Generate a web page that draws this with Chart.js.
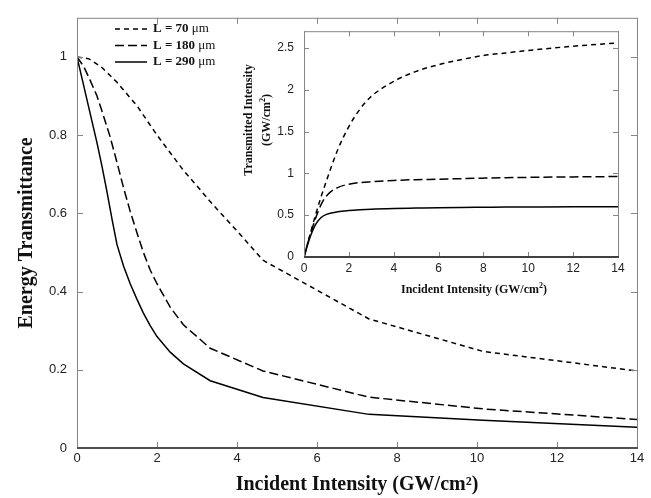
<!DOCTYPE html>
<html>
<head>
<meta charset="utf-8">
<script src="https://cdn.jsdelivr.net/npm/chart.js@4.4.0/dist/chart.umd.min.js"></script>
<style>
  body { margin: 0; background: #fff; }
  #wrap { position: relative; width: 651px; height: 498px; overflow: hidden; }
  #mainChart { position: absolute; left: 0; top: 0; }
  #insetChart { position: absolute; left: 230px; top: 14px; }
  .inset-title {
    position: absolute;
    font: bold 12px 'Liberation Serif', 'Times New Roman', serif;
    color: #111;
    white-space: nowrap;
    text-align: center;
    line-height: 18px;
  }
  .inset-title sup { font-size: 8px; line-height: 0; }
  #insetY { left: 187px; top: 102px; width: 140px; height: 36px; transform: rotate(-90deg); }
  #insetX { left: 374px; top: 280px; width: 200px; height: 18px; }
</style>
</head>
<body>
<div id="wrap">
  <canvas id="mainChart" width="651" height="498"></canvas>
  <canvas id="insetChart" width="400" height="290"></canvas>
  <div class="inset-title" id="insetY">Transmitted Intensity<br>(GW/cm<sup>2</sup>)</div>
  <div class="inset-title" id="insetX">Incident Intensity (GW/cm<sup>2</sup>)</div>
</div>
<script>
// sample thicknesses
const lengths = [70, 180, 290];

// main plot: energy transmittance vs incident intensity (GW/cm2)
const mainX70 = [0, 0.3, 0.6, 1.0, 1.5, 2.0, 2.33, 2.66, 3.0, 3.33, 4.0, 4.65, 7.3, 10.15, 14];
const mainT70 = [1, 0.995, 0.975, 0.935, 0.875, 0.80, 0.755, 0.71, 0.67, 0.63, 0.555, 0.48, 0.33, 0.247, 0.197];

const mainX180 = [0, 0.17, 0.33, 0.5, 0.66, 0.83, 1.0, 1.165, 1.33, 1.5, 1.66, 1.83, 2.0, 2.33, 2.66, 3.33, 4.65, 7.3, 10.15, 14];
const mainT180 = [1, 0.975, 0.94, 0.9, 0.85, 0.795, 0.73, 0.665, 0.605, 0.55, 0.50, 0.455, 0.42, 0.36, 0.315, 0.255, 0.197, 0.13, 0.10, 0.073];

const mainX290 = [0, 0.125, 0.25, 0.375, 0.5, 0.625, 0.75, 0.875, 1.0, 1.165, 1.33, 1.5, 1.66, 1.83, 2.0, 2.33, 2.66, 3.33, 4.65, 7.3, 10.15, 14];
const mainT290 = [1, 0.945, 0.89, 0.835, 0.78, 0.72, 0.655, 0.585, 0.52, 0.465, 0.42, 0.38, 0.345, 0.313, 0.285, 0.245, 0.215, 0.172, 0.129, 0.086, 0.071, 0.053];

// inset: transmitted intensity vs incident intensity
const insetX = [0, 0.25, 0.5, 0.75, 1, 1.5, 2, 2.5, 3, 4, 5, 6, 7, 8, 9, 10, 12, 14];
const inset70 = [0, 0.25, 0.49, 0.71, 0.91, 1.28, 1.56, 1.77, 1.92, 2.1, 2.22, 2.3, 2.36, 2.41, 2.44, 2.47, 2.52, 2.56];
const inset180 = [0, 0.24, 0.45, 0.62, 0.73, 0.83, 0.87, 0.89, 0.9, 0.915, 0.925, 0.93, 0.937, 0.943, 0.948, 0.952, 0.958, 0.962];
const inset290 = [0, 0.22, 0.38, 0.47, 0.51, 0.54, 0.555, 0.565, 0.572, 0.58, 0.585, 0.59, 0.593, 0.595, 0.597, 0.598, 0.6, 0.6];

const dashes = [[5, 4], [9, 4], []];

function pts(xs, ys) {
    return xs.map((x, i) => ({ x: x, y: ys[i] }));
}

// "1" not "1.0", "2" not "2.0"
const plainNum = (v) => String(Math.round(v * 100) / 100);

// box round the plot, with ticks pointing inwards on all four sides
const frameTicks = {
    id: 'frameTicks',
    afterDraw(chart, args, opts) {
        const { ctx, chartArea: a, scales: { x, y } } = chart;
        ctx.save();
        ctx.lineWidth = 1;
        ctx.strokeStyle = opts.color;
        ctx.beginPath();
        x.ticks.forEach((t, i) => {
            const px = Math.round(x.getPixelForTick(i)) + 0.5;
            ctx.moveTo(px, a.bottom); ctx.lineTo(px, a.bottom - opts.len);
            ctx.moveTo(px, a.top); ctx.lineTo(px, a.top + opts.len);
        });
        y.ticks.forEach((t, i) => {
            const py = Math.round(y.getPixelForTick(i)) + 0.5;
            ctx.moveTo(a.left, py); ctx.lineTo(a.left + opts.len, py);
            ctx.moveTo(a.right, py); ctx.lineTo(a.right - opts.len, py);
        });
        ctx.stroke();
        ctx.strokeRect(a.left + 0.5, a.top + 0.5, a.right - a.left, a.bottom - a.top);
        ctx.strokeStyle = opts.baseColor;
        ctx.lineWidth = 2;
        ctx.beginPath();
        ctx.moveTo(a.left, a.bottom);
        ctx.lineTo(a.right + 1, a.bottom);
        ctx.stroke();
        ctx.restore();
    }
};

// legend in the upper left corner, "L = .." bold and the unit plain
const lineKey = {
    id: 'lineKey',
    afterDraw(chart, args, opts) {
        const ctx = chart.ctx;
        chart.data.datasets.forEach((ds, i) => {
            const y = opts.top + i * opts.gap;
            ctx.save();
            ctx.strokeStyle = ds.borderColor;
            ctx.lineWidth = ds.borderWidth;
            ctx.setLineDash(ds.borderDash);
            ctx.beginPath();
            ctx.moveTo(opts.x, y);
            ctx.lineTo(opts.x + opts.width, y);
            ctx.stroke();
            ctx.setLineDash([]);
            ctx.fillStyle = '#111';
            ctx.textBaseline = 'middle';
            const cut = ds.label.lastIndexOf(' ');
            const head = ds.label.slice(0, cut + 1);
            const unit = ds.label.slice(cut + 1);
            let tx = opts.x + opts.width + 6;
            ctx.font = "bold 13px 'Liberation Serif'";
            ctx.fillText(head, tx, y);
            tx += ctx.measureText(head).width;
            ctx.font = "13px 'Liberation Serif'";
            ctx.fillText(unit, tx, y);
            ctx.restore();
        });
    }
};

function makeSets(series) {
    return series.map((s, i) => ({
        label: 'L = ' + lengths[i] + ' μm',
        data: s,
        borderColor: '#000',
        borderWidth: 1.5,
        borderDash: dashes[i],
        pointRadius: 0,
        fill: false
    }));
}

const tickFont = { family: "'Liberation Sans', Arial, sans-serif", size: 13 };
const titleFont = { family: "'Liberation Serif', 'Times New Roman', serif", size: 20, weight: 'bold' };

// Main chart
const mainCtx = document.getElementById('mainChart').getContext('2d');
new Chart(mainCtx, {
    type: 'line',
    data: {
        datasets: makeSets([pts(mainX70, mainT70), pts(mainX180, mainT180), pts(mainX290, mainT290)])
    },
    options: {
        responsive: false,
        animation: false,
        devicePixelRatio: 1,
        layout: { padding: { left: 0, top: 12, right: 14, bottom: 0 } },
        elements: { line: { tension: 0 } },
        plugins: {
            legend: { display: false },
            tooltip: { enabled: false },
            frameTicks: { len: 6, color: '#858585', baseColor: '#505050' },
            lineKey: { x: 115, top: 29, gap: 16.5, width: 32 }
        },
        scales: {
            x: {
                type: 'linear',
                min: 0,
                max: 14,
                grid: { display: false, drawTicks: false, tickLength: 0 },
                border: { display: false },
                ticks: { stepSize: 2, padding: 3, color: '#222', font: tickFont, maxRotation: 0, callback: plainNum },
                title: { display: true, text: 'Incident Intensity (GW/cm²)', color: '#111', font: titleFont, padding: { top: 0, bottom: 1 } },
                afterFit: (s) => { s.height = 50; }
            },
            y: {
                min: 0,
                max: 1.1,
                grid: { display: false, drawTicks: false, tickLength: 0 },
                border: { display: false },
                ticks: { stepSize: 0.2, includeBounds: false, padding: 10, color: '#222', font: tickFont, callback: plainNum },
                title: { display: true, text: 'Energy Transmittance', color: '#111', font: titleFont, padding: { top: 15, bottom: 0 } },
                afterFit: (s) => { s.width = 77; }
            }
        }
    },
    plugins: [frameTicks, lineKey]
});

// Inset chart
const insetCtx = document.getElementById('insetChart').getContext('2d');
new Chart(insetCtx, {
    type: 'line',
    data: {
        datasets: makeSets([pts(insetX, inset70), pts(insetX, inset180), pts(insetX, inset290)])
    },
    options: {
        responsive: false,
        animation: false,
        devicePixelRatio: 1,
        layout: { padding: { left: 0, top: 10, right: 12, bottom: 0 } },
        elements: { line: { cubicInterpolationMode: 'monotone' } },
        plugins: {
            legend: { display: false },
            tooltip: { enabled: false },
            frameTicks: { len: 5, color: '#858585', baseColor: '#404040' }
        },
        scales: {
            x: {
                type: 'linear',
                min: 0,
                max: 14,
                grid: { display: false, drawTicks: false, tickLength: 0 },
                border: { display: false },
                ticks: { stepSize: 2, padding: 4, color: '#222', font: { family: tickFont.family, size: 12 }, maxRotation: 0, callback: plainNum },
                afterFit: (s) => { s.height = 47; }
            },
            y: {
                min: 0,
                max: 2.7,
                grid: { display: false, drawTicks: false, tickLength: 0 },
                border: { display: false },
                ticks: { stepSize: 0.5, includeBounds: false, padding: 10, color: '#222', font: { family: tickFont.family, size: 12 }, callback: plainNum },
                afterFit: (s) => { s.width = 74; }
            }
        }
    },
    plugins: [frameTicks]
});
</script>
</body>
</html>
